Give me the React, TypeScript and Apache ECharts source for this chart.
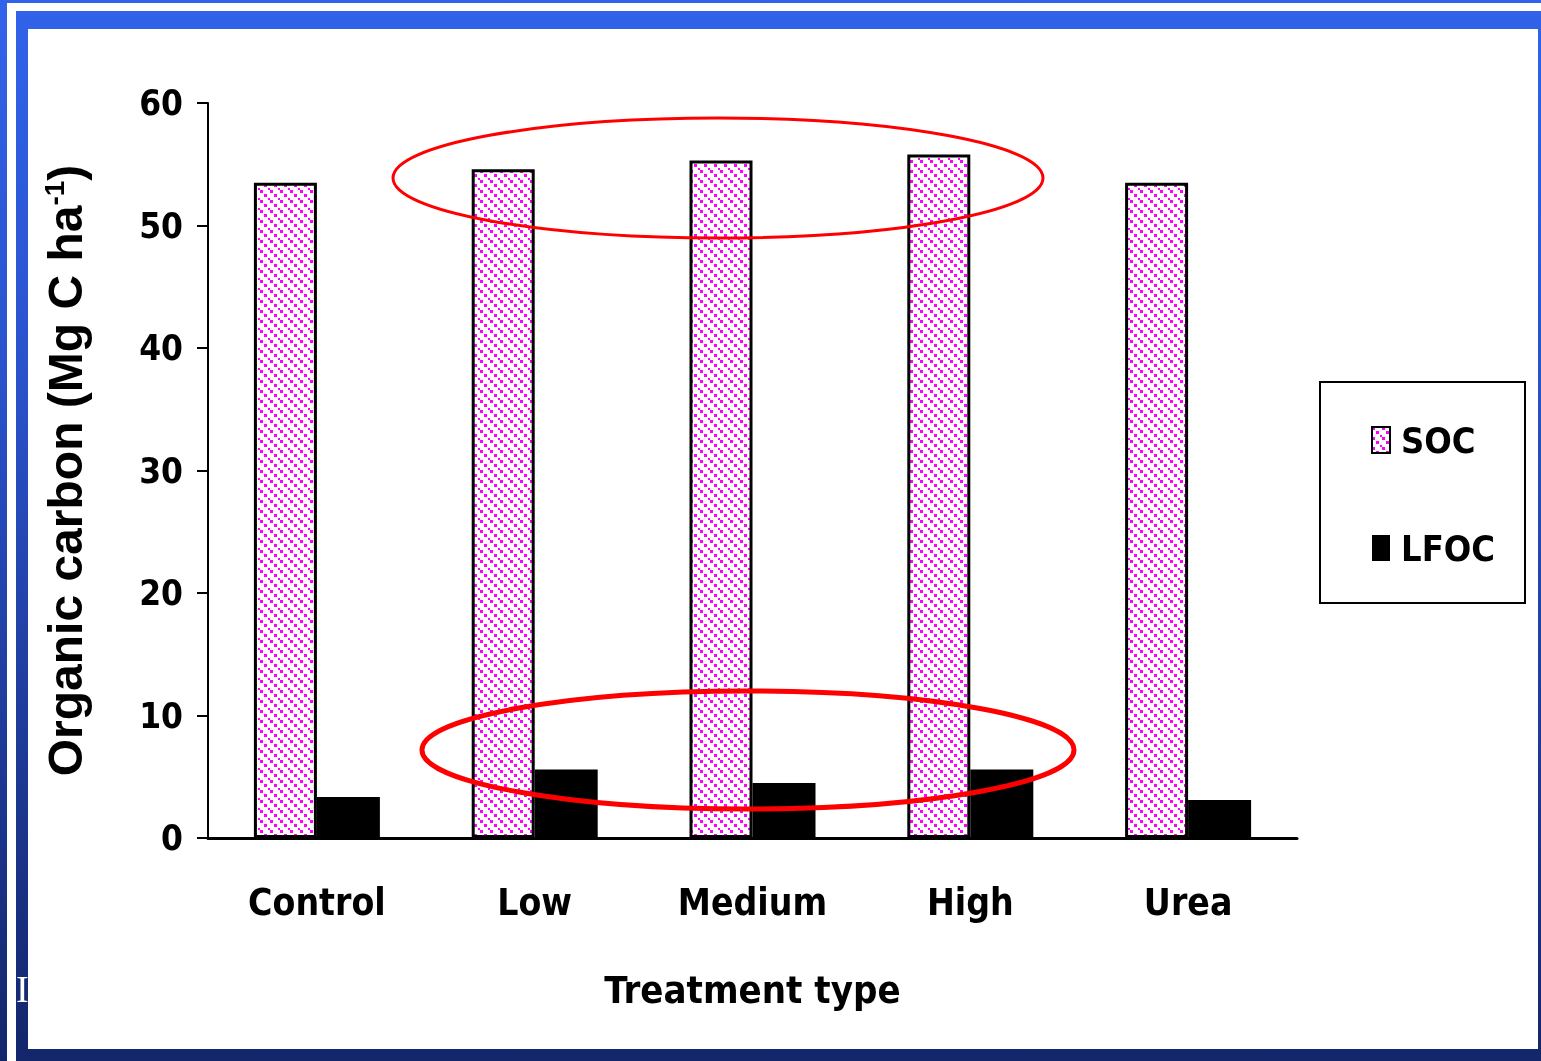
import React, { useEffect, useRef } from "react";
import * as echarts from "echarts";

const categories = ["Control", "Low", "Medium", "High", "Urea"];
const socValues = [53.5, 54.6, 55.3, 55.8, 53.5];
const lfocValues = [3.35, 5.6, 4.5, 5.6, 3.1];
const seriesNames = ["SOC", "LFOC"];
const yMin = 0;
const yMax = 60;
const yStep = 10;
const xTitle = "Treatment type";

const NARROW = "'Liberation Sans Narrow','Arial Narrow','DejaVu Sans Condensed',sans-serif";
const WIDE = "'Liberation Sans',Arial,sans-serif";

export default function App() {
  const ref = useRef<HTMLDivElement>(null);
  useEffect(() => {
    const el = ref.current!;
    const chart = echarts.init(el, null, { renderer: "svg" });
    const cv = document.createElement("canvas");
    cv.width = 10;
    cv.height = 10;
    const ctx = cv.getContext("2d")!;
    ctx.fillStyle = "#ffffff";
    ctx.fillRect(0, 0, 10, 10);
    ctx.fillStyle = "#ff00ff";
    ctx.fillRect(0, 0, 3, 3);
    ctx.fillRect(4, 4, 3, 3);
    ctx.fillRect(8, 8, 2, 2);

    chart.setOption({
      animation: false,
      backgroundColor: "transparent",
      grid: { left: 208, right: 244, top: 103, bottom: 223 },
      legend: {
        orient: "vertical",
        left: 1371,
        top: 422,
        padding: 0,
        itemWidth: 18,
        itemHeight: 26,
        itemGap: 72,
        icon: "rect",
        selectedMode: false,
        data: seriesNames,
        textStyle: {
          fontSize: 36,
          fontWeight: "bold",
          fontFamily: NARROW,
          color: "#000",
          padding: [0, 0, 0, 6],
        },
      },
      xAxis: {
        type: "category",
        data: categories,
        name: xTitle,
        nameLocation: "middle",
        nameGap: 133,
        nameTextStyle: { fontSize: 38, fontWeight: "bold", fontFamily: NARROW, color: "#000" },
        axisLine: { lineStyle: { color: "#000", width: 3 } },
        axisTick: { length: 15, lineStyle: { color: "#000", width: 2 } },
        axisLabel: { margin: 46, fontSize: 37, fontWeight: "bold", fontFamily: NARROW, color: "#000" },
      },
      yAxis: {
        type: "value",
        min: yMin,
        max: yMax,
        interval: yStep,
        name: "{a|Organic carbon (Mg C ha}{s|-1}{a|)}",
        nameLocation: "middle",
        nameGap: 118,
        nameTextStyle: {
          rich: {
            a: { fontSize: 48, fontWeight: "bold", fontFamily: WIDE, color: "#000" },
            s: { fontSize: 28, fontWeight: "bold", fontFamily: WIDE, color: "#000", padding: [0, 0, 22, 0] },
          },
        },
        splitLine: { show: false },
        axisLine: { show: true, lineStyle: { color: "#000", width: 2 } },
        axisTick: { show: true, length: 11, lineStyle: { color: "#000", width: 2 } },
        axisLabel: { margin: 25, fontSize: 35, fontWeight: "bold", fontFamily: NARROW, color: "#000" },
      },
      series: [
        {
          name: seriesNames[0],
          type: "bar",
          data: socValues,
          barWidth: 63,
          barGap: "0%",
          emphasis: { disabled: true },
          itemStyle: { color: { image: cv, repeat: "repeat" }, borderColor: "#000", borderWidth: 3 },
        },
        {
          name: seriesNames[1],
          type: "bar",
          data: lfocValues,
          barWidth: 63,
          barGap: "0%",
          emphasis: { disabled: true },
          itemStyle: { color: "#000" },
        },
      ],
      graphic: [
        {
          type: "rect",
          z: -10,
          silent: true,
          shape: { x: 0, y: 0, width: 1541, height: 1061 },
          style: {
            fill: new echarts.graphic.LinearGradient(0, 0, 0, 1, [
              { offset: 0, color: "#3163EA" },
              { offset: 0.35, color: "#2a52cc" },
              { offset: 1, color: "#13266A" },
            ]),
          },
        },
        { type: "rect", z: -9, silent: true, shape: { x: 7, y: 3, width: 1534, height: 8 }, style: { fill: "#ffffff" } },
        { type: "rect", z: -9, silent: true, shape: { x: 7, y: 3, width: 9, height: 1058 }, style: { fill: "#ffffff" } },
        {
          type: "text",
          z: -8,
          silent: true,
          style: { text: "I", x: 16, y: 1008, verticalAlign: "bottom", fontSize: 38, fontFamily: "'Liberation Serif',serif", fill: "#ffffff" },
        },
        { type: "rect", z: -7, silent: true, shape: { x: 28, y: 29, width: 1510, height: 1020 }, style: { fill: "#ffffff" } },
        {
          type: "rect",
          z: 50,
          silent: true,
          shape: { x: 1320, y: 382, width: 205, height: 221 },
          style: { fill: "none", stroke: "#000", lineWidth: 2 },
        },
        {
          type: "ellipse",
          z: 100,
          silent: true,
          shape: { cx: 718, cy: 178, rx: 325, ry: 60 },
          style: { fill: "none", stroke: "#ff0000", lineWidth: 3 },
        },
        {
          type: "ellipse",
          z: 100,
          silent: true,
          shape: { cx: 748, cy: 750, rx: 326, ry: 59 },
          style: { fill: "none", stroke: "#ff0000", lineWidth: 5 },
        },
      ],
    });
    return () => chart.dispose();
  }, []);
  return <div ref={ref} style={{ position: "fixed", left: 0, top: 0, width: 1541, height: 1061 }} />;
}
